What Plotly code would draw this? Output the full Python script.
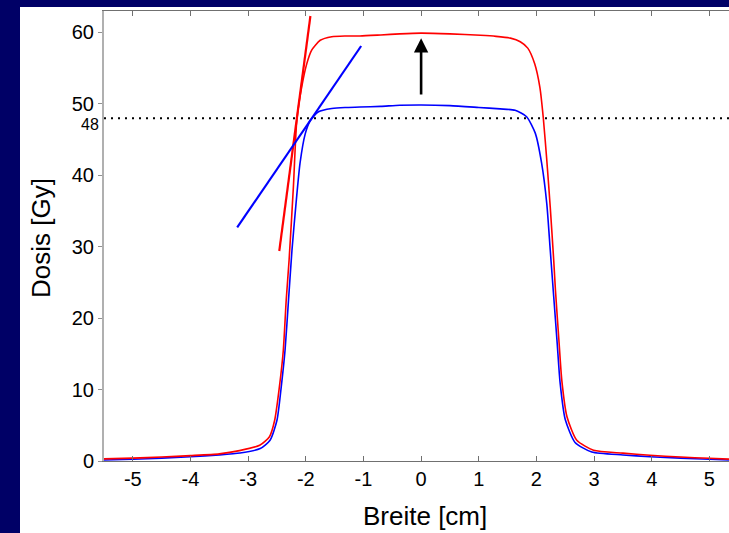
import plotly.graph_objects as go

# --- data ---
red_x = [-5.5, -5.0, -4.5, -4.0, -3.5, -3.15, -2.8, -2.63, -2.54, -2.45, -2.39, -2.34, -2.29,
         -2.215, -2.156, -2.07, -1.98, -1.90, -1.75, -1.55, -1.32, -1.06, -0.7, -0.37, 0.0,
         0.5, 1.03, 1.3, 1.55, 1.72, 1.85, 1.97, 2.06, 2.12, 2.18, 2.24, 2.30, 2.33, 2.39,
         2.44, 2.53, 2.70, 2.99, 3.5, 3.97, 4.5, 5.0, 5.34]
red_y = [0.3, 0.4, 0.55, 0.75, 1.0, 1.45, 2.2, 3.4, 5.7, 10.9, 15.5, 22.5, 28.1,
         38.4, 47.7, 52.4, 55.7, 57.5, 58.9, 59.4, 59.5, 59.5, 59.65, 59.8, 59.9,
         59.8, 59.6, 59.45, 59.2, 58.7, 57.8, 55.6, 52.3, 47.95, 42.1, 35.5, 28.1, 23.9, 16.9,
         11.3, 6.2, 2.9, 1.5, 1.1, 0.8, 0.55, 0.38, 0.26]

blue_x = [-5.5, -5.0, -4.5, -4.0, -3.5, -3.14, -2.79, -2.62, -2.50, -2.42, -2.36, -2.30, -2.24,
          -2.17, -2.10, -2.01, -1.92, -1.78, -1.55, -1.32, -1.06, -0.7, -0.37, 0.0,
          0.5, 1.0, 1.37, 1.63, 1.83, 1.98, 2.09, 2.18, 2.24, 2.30, 2.36, 2.41,
          2.50, 2.67, 2.96, 3.5, 3.97, 4.5, 5.0, 5.34]
blue_y = [0.15, 0.25, 0.4, 0.6, 0.85, 1.12, 1.74, 2.9, 5.7, 10.8, 15.5, 22.5, 29.5,
          36.0, 41.7, 45.8, 47.7, 48.9, 49.35, 49.5, 49.55, 49.65, 49.8, 49.85,
          49.75, 49.5, 49.3, 49.1, 48.2, 45.9, 41.7, 36.0, 29.5, 23.0, 16.5, 11.0,
          5.8, 2.6, 1.25, 0.85, 0.6, 0.4, 0.25, 0.15]

red_tangent_x = [-2.46, -1.92]
red_tangent_y = [29.4, 62.3]
blue_tangent_x = [-3.19, -1.04]
blue_tangent_y = [32.7, 58.1]

ref_level = 48
ref_x = [-5.5, 5.34]

arrow_x = 0.0
arrow_tail_y = 51.1
arrow_tip_y = 59.2

x_ticks = [-5, -4, -3, -2, -1, 0, 1, 2, 3, 4, 5]
y_ticks = [0, 10, 20, 30, 40, 50, 60]

x_range = [-5.5, 5.34]
y_range = [0, 63]

W, H = 729, 533
ML, MR, MT, MB = 104, 0, 11, 72
PW, PH = W - ML - MR, H - MT - MB

def px_x(p):
    return (p - ML) / PW

def px_y(p):
    return (H - MB - p) / PH

NAVY = "#000066"
FONT = "Liberation Sans, Arial, sans-serif"

fig = go.Figure()

fig.add_trace(go.Scatter(x=ref_x, y=[ref_level, ref_level], mode="lines",
                         line=dict(color="black", width=2, dash="2px,5px"),
                         hoverinfo="skip"))
fig.add_trace(go.Scatter(x=blue_x, y=blue_y, mode="lines", line_shape="spline",
                         line=dict(color="#0000ff", width=1.6, smoothing=0.6)))
fig.add_trace(go.Scatter(x=red_x, y=red_y, mode="lines", line_shape="spline",
                         line=dict(color="#ff0000", width=1.6, smoothing=0.6)))
fig.add_trace(go.Scatter(x=red_tangent_x, y=red_tangent_y, mode="lines",
                         line=dict(color="#ff0000", width=2.2)))
fig.add_trace(go.Scatter(x=blue_tangent_x, y=blue_tangent_y, mode="lines",
                         line=dict(color="#0000ff", width=2.2)))

fig.add_annotation(x=arrow_x, y=arrow_tip_y, ax=arrow_x, ay=arrow_tail_y,
                   xref="x", yref="y", axref="x", ayref="y",
                   showarrow=True, arrowhead=2, arrowsize=1.1, arrowwidth=2.6,
                   arrowcolor="black", text="")

fig.add_annotation(text="48", x=px_x(101), y=ref_level - 0.85, xref="paper", yref="y",
                   xanchor="right", yanchor="middle", showarrow=False,
                   font=dict(family=FONT, size=16, color="black"))

fig.add_annotation(text="Breite [cm]", x=px_x(425), y=px_y(516), xref="paper", yref="paper",
                   xanchor="center", yanchor="middle", showarrow=False,
                   font=dict(family=FONT, size=26, color="black"))
fig.add_annotation(text="Dosis [Gy]", x=px_x(41), y=px_y(238), xref="paper", yref="paper",
                   xanchor="center", yanchor="middle", showarrow=False, textangle=-90,
                   font=dict(family=FONT, size=26, color="black"))

# navy frame strips (left and top)
fig.add_shape(type="rect", xref="paper", yref="paper",
              x0=px_x(-5), x1=px_x(20), y0=px_y(540), y1=px_y(-5),
              fillcolor=NAVY, line=dict(width=0), layer="above")
fig.add_shape(type="rect", xref="paper", yref="paper",
              x0=px_x(-5), x1=px_x(735), y0=px_y(7), y1=px_y(-5),
              fillcolor=NAVY, line=dict(width=0), layer="above")

fig.update_layout(
    width=W, height=H,
    margin=dict(l=ML, r=MR, t=MT, b=MB, pad=0),
    paper_bgcolor="white", plot_bgcolor="white",
    showlegend=False,
    font=dict(family=FONT, size=20, color="black"),
)
fig.update_xaxes(range=x_range, tickvals=x_ticks, ticktext=[str(v) for v in x_ticks],
                 showgrid=False, zeroline=False,
                 showline=True, linecolor="#707070", linewidth=1.3, mirror="ticks",
                 ticks="inside", ticklen=5, tickwidth=1, tickcolor="#707070",
                 tickfont=dict(family=FONT, size=20, color="black"))
fig.update_yaxes(range=y_range, tickvals=y_ticks, ticktext=[str(v) for v in y_ticks],
                 showgrid=False, zeroline=False,
                 showline=True, linecolor="#b0b0b0", linewidth=2,
                 ticks="outside", ticklen=4, tickwidth=1, tickcolor="#909090",
                 tickfont=dict(family=FONT, size=20, color="black"))

fig.write_html("out.html", config={"displayModeBar": False},
               post_script="document.body.style.margin='0';document.body.style.overflow='hidden';")
